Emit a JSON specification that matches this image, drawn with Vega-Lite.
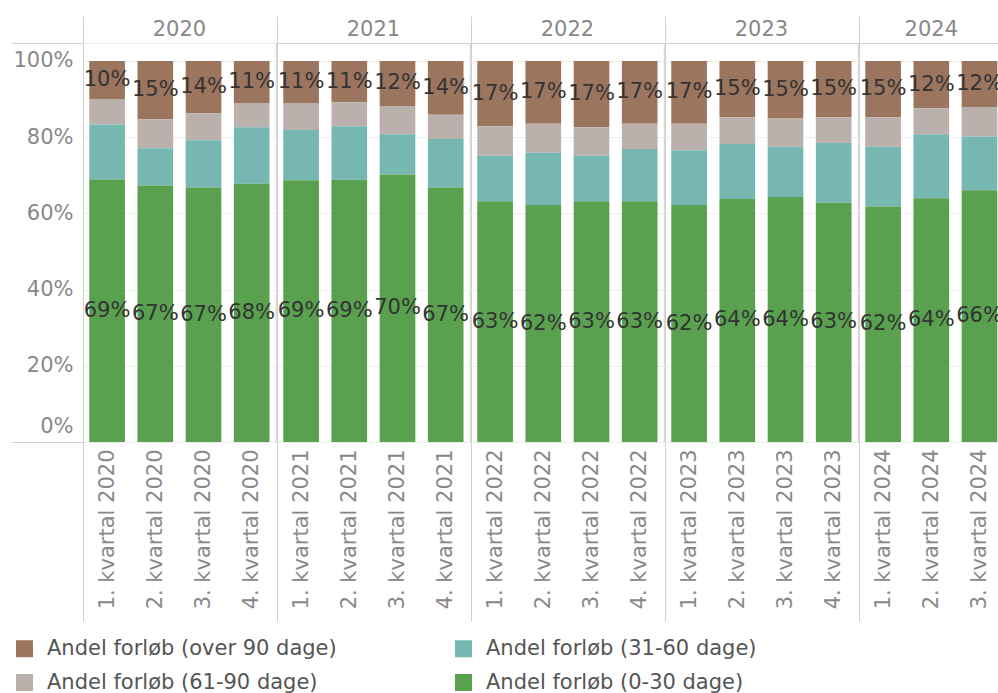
{
  "$schema": "https://vega.github.io/schema/vega-lite/v6.json",
  "padding": {"left": 10, "top": 15, "right": 0, "bottom": 0},
  "autosize": {"type": "pad"},
  "spacing": -14,
  "config": {
    "font": "DejaVu Sans",
    "view": {"stroke": "#d0d0d0", "strokeWidth": 1},
    "title": {"font": "DejaVu Sans", "fontSize": 21, "fontWeight": "normal", "color": "#888888", "offset": -24, "anchor": "middle"},
    "axisBottom": {
      "domain": false, "grid": false,
      "labelAngle": -90, "labelAlign": "right", "labelBaseline": "middle",
      "labelFont": "DejaVu Sans", "labelFontSize": 21, "labelColor": "#888888",
      "labelPadding": -172, "tickBand": "extent", "tickSize": 179, "tickColor": "#d0d0d0"
    },
    "axisTop": {
      "domain": false, "grid": false, "labels": false,
      "tickBand": "extent", "tickSize": 27, "tickColor": "#d0d0d0"
    },
    "axisLeft": {
      "domain": false, "labelFont": "DejaVu Sans", "labelFontSize": 21, "labelColor": "#888888",
      "labelPadding": -62, "tickSize": 72, "tickColor": "#d0d0d0", "gridColor": "#eeeeee",
      "minExtent": 0
    },
    "legend": {
      "orient": "none", "legendX": -69, "legendY": 595,
      "direction": "horizontal", "columns": 2, "columnPadding": 116, "rowPadding": 12,
      "symbolType": "square", "symbolSize": 289, "symbolStrokeWidth": 0,
      "labelFont": "DejaVu Sans", "labelFontSize": 21, "labelColor": "#555555", "labelOffset": 12, "labelLimit": 400,
      "title": null
    }
  },
  "data": {"values": [
    {"aar": "2020", "kvartal": "1. kvartal 2020", "kategori": "Andel forløb (over 90 dage)", "andel": 0.100},
    {"aar": "2020", "kvartal": "1. kvartal 2020", "kategori": "Andel forløb (61-90 dage)", "andel": 0.067},
    {"aar": "2020", "kvartal": "1. kvartal 2020", "kategori": "Andel forløb (31-60 dage)", "andel": 0.144},
    {"aar": "2020", "kvartal": "1. kvartal 2020", "kategori": "Andel forløb (0-30 dage)", "andel": 0.689},
    {"aar": "2020", "kvartal": "2. kvartal 2020", "kategori": "Andel forløb (over 90 dage)", "andel": 0.153},
    {"aar": "2020", "kvartal": "2. kvartal 2020", "kategori": "Andel forløb (61-90 dage)", "andel": 0.076},
    {"aar": "2020", "kvartal": "2. kvartal 2020", "kategori": "Andel forløb (31-60 dage)", "andel": 0.098},
    {"aar": "2020", "kvartal": "2. kvartal 2020", "kategori": "Andel forløb (0-30 dage)", "andel": 0.673},
    {"aar": "2020", "kvartal": "3. kvartal 2020", "kategori": "Andel forløb (over 90 dage)", "andel": 0.137},
    {"aar": "2020", "kvartal": "3. kvartal 2020", "kategori": "Andel forløb (61-90 dage)", "andel": 0.071},
    {"aar": "2020", "kvartal": "3. kvartal 2020", "kategori": "Andel forløb (31-60 dage)", "andel": 0.124},
    {"aar": "2020", "kvartal": "3. kvartal 2020", "kategori": "Andel forløb (0-30 dage)", "andel": 0.668},
    {"aar": "2020", "kvartal": "4. kvartal 2020", "kategori": "Andel forløb (over 90 dage)", "andel": 0.110},
    {"aar": "2020", "kvartal": "4. kvartal 2020", "kategori": "Andel forløb (61-90 dage)", "andel": 0.064},
    {"aar": "2020", "kvartal": "4. kvartal 2020", "kategori": "Andel forløb (31-60 dage)", "andel": 0.148},
    {"aar": "2020", "kvartal": "4. kvartal 2020", "kategori": "Andel forløb (0-30 dage)", "andel": 0.678},
    {"aar": "2021", "kvartal": "1. kvartal 2021", "kategori": "Andel forløb (over 90 dage)", "andel": 0.110},
    {"aar": "2021", "kvartal": "1. kvartal 2021", "kategori": "Andel forløb (61-90 dage)", "andel": 0.071},
    {"aar": "2021", "kvartal": "1. kvartal 2021", "kategori": "Andel forløb (31-60 dage)", "andel": 0.132},
    {"aar": "2021", "kvartal": "1. kvartal 2021", "kategori": "Andel forløb (0-30 dage)", "andel": 0.687},
    {"aar": "2021", "kvartal": "2. kvartal 2021", "kategori": "Andel forløb (over 90 dage)", "andel": 0.108},
    {"aar": "2021", "kvartal": "2. kvartal 2021", "kategori": "Andel forløb (61-90 dage)", "andel": 0.063},
    {"aar": "2021", "kvartal": "2. kvartal 2021", "kategori": "Andel forløb (31-60 dage)", "andel": 0.141},
    {"aar": "2021", "kvartal": "2. kvartal 2021", "kategori": "Andel forløb (0-30 dage)", "andel": 0.688},
    {"aar": "2021", "kvartal": "3. kvartal 2021", "kategori": "Andel forløb (over 90 dage)", "andel": 0.118},
    {"aar": "2021", "kvartal": "3. kvartal 2021", "kategori": "Andel forløb (61-90 dage)", "andel": 0.074},
    {"aar": "2021", "kvartal": "3. kvartal 2021", "kategori": "Andel forløb (31-60 dage)", "andel": 0.106},
    {"aar": "2021", "kvartal": "3. kvartal 2021", "kategori": "Andel forløb (0-30 dage)", "andel": 0.702},
    {"aar": "2021", "kvartal": "4. kvartal 2021", "kategori": "Andel forløb (over 90 dage)", "andel": 0.141},
    {"aar": "2021", "kvartal": "4. kvartal 2021", "kategori": "Andel forløb (61-90 dage)", "andel": 0.064},
    {"aar": "2021", "kvartal": "4. kvartal 2021", "kategori": "Andel forløb (31-60 dage)", "andel": 0.127},
    {"aar": "2021", "kvartal": "4. kvartal 2021", "kategori": "Andel forløb (0-30 dage)", "andel": 0.668},
    {"aar": "2022", "kvartal": "1. kvartal 2022", "kategori": "Andel forløb (over 90 dage)", "andel": 0.171},
    {"aar": "2022", "kvartal": "1. kvartal 2022", "kategori": "Andel forløb (61-90 dage)", "andel": 0.078},
    {"aar": "2022", "kvartal": "1. kvartal 2022", "kategori": "Andel forløb (31-60 dage)", "andel": 0.119},
    {"aar": "2022", "kvartal": "1. kvartal 2022", "kategori": "Andel forløb (0-30 dage)", "andel": 0.632},
    {"aar": "2022", "kvartal": "2. kvartal 2022", "kategori": "Andel forløb (over 90 dage)", "andel": 0.165},
    {"aar": "2022", "kvartal": "2. kvartal 2022", "kategori": "Andel forløb (61-90 dage)", "andel": 0.076},
    {"aar": "2022", "kvartal": "2. kvartal 2022", "kategori": "Andel forløb (31-60 dage)", "andel": 0.137},
    {"aar": "2022", "kvartal": "2. kvartal 2022", "kategori": "Andel forløb (0-30 dage)", "andel": 0.622},
    {"aar": "2022", "kvartal": "3. kvartal 2022", "kategori": "Andel forløb (over 90 dage)", "andel": 0.174},
    {"aar": "2022", "kvartal": "3. kvartal 2022", "kategori": "Andel forløb (61-90 dage)", "andel": 0.075},
    {"aar": "2022", "kvartal": "3. kvartal 2022", "kategori": "Andel forløb (31-60 dage)", "andel": 0.119},
    {"aar": "2022", "kvartal": "3. kvartal 2022", "kategori": "Andel forløb (0-30 dage)", "andel": 0.632},
    {"aar": "2022", "kvartal": "4. kvartal 2022", "kategori": "Andel forløb (over 90 dage)", "andel": 0.165},
    {"aar": "2022", "kvartal": "4. kvartal 2022", "kategori": "Andel forløb (61-90 dage)", "andel": 0.066},
    {"aar": "2022", "kvartal": "4. kvartal 2022", "kategori": "Andel forløb (31-60 dage)", "andel": 0.137},
    {"aar": "2022", "kvartal": "4. kvartal 2022", "kategori": "Andel forløb (0-30 dage)", "andel": 0.632},
    {"aar": "2023", "kvartal": "1. kvartal 2023", "kategori": "Andel forløb (over 90 dage)", "andel": 0.165},
    {"aar": "2023", "kvartal": "1. kvartal 2023", "kategori": "Andel forløb (61-90 dage)", "andel": 0.069},
    {"aar": "2023", "kvartal": "1. kvartal 2023", "kategori": "Andel forløb (31-60 dage)", "andel": 0.144},
    {"aar": "2023", "kvartal": "1. kvartal 2023", "kategori": "Andel forløb (0-30 dage)", "andel": 0.622},
    {"aar": "2023", "kvartal": "2. kvartal 2023", "kategori": "Andel forløb (over 90 dage)", "andel": 0.148},
    {"aar": "2023", "kvartal": "2. kvartal 2023", "kategori": "Andel forløb (61-90 dage)", "andel": 0.070},
    {"aar": "2023", "kvartal": "2. kvartal 2023", "kategori": "Andel forløb (31-60 dage)", "andel": 0.144},
    {"aar": "2023", "kvartal": "2. kvartal 2023", "kategori": "Andel forløb (0-30 dage)", "andel": 0.638},
    {"aar": "2023", "kvartal": "3. kvartal 2023", "kategori": "Andel forløb (over 90 dage)", "andel": 0.151},
    {"aar": "2023", "kvartal": "3. kvartal 2023", "kategori": "Andel forløb (61-90 dage)", "andel": 0.074},
    {"aar": "2023", "kvartal": "3. kvartal 2023", "kategori": "Andel forløb (31-60 dage)", "andel": 0.132},
    {"aar": "2023", "kvartal": "3. kvartal 2023", "kategori": "Andel forløb (0-30 dage)", "andel": 0.643},
    {"aar": "2023", "kvartal": "4. kvartal 2023", "kategori": "Andel forløb (over 90 dage)", "andel": 0.148},
    {"aar": "2023", "kvartal": "4. kvartal 2023", "kategori": "Andel forløb (61-90 dage)", "andel": 0.067},
    {"aar": "2023", "kvartal": "4. kvartal 2023", "kategori": "Andel forløb (31-60 dage)", "andel": 0.157},
    {"aar": "2023", "kvartal": "4. kvartal 2023", "kategori": "Andel forløb (0-30 dage)", "andel": 0.628},
    {"aar": "2024", "kvartal": "1. kvartal 2024", "kategori": "Andel forløb (over 90 dage)", "andel": 0.148},
    {"aar": "2024", "kvartal": "1. kvartal 2024", "kategori": "Andel forløb (61-90 dage)", "andel": 0.077},
    {"aar": "2024", "kvartal": "1. kvartal 2024", "kategori": "Andel forløb (31-60 dage)", "andel": 0.157},
    {"aar": "2024", "kvartal": "1. kvartal 2024", "kategori": "Andel forløb (0-30 dage)", "andel": 0.618},
    {"aar": "2024", "kvartal": "2. kvartal 2024", "kategori": "Andel forløb (over 90 dage)", "andel": 0.124},
    {"aar": "2024", "kvartal": "2. kvartal 2024", "kategori": "Andel forløb (61-90 dage)", "andel": 0.068},
    {"aar": "2024", "kvartal": "2. kvartal 2024", "kategori": "Andel forløb (31-60 dage)", "andel": 0.168},
    {"aar": "2024", "kvartal": "2. kvartal 2024", "kategori": "Andel forløb (0-30 dage)", "andel": 0.640},
    {"aar": "2024", "kvartal": "3. kvartal 2024", "kategori": "Andel forløb (over 90 dage)", "andel": 0.121},
    {"aar": "2024", "kvartal": "3. kvartal 2024", "kategori": "Andel forløb (61-90 dage)", "andel": 0.077},
    {"aar": "2024", "kvartal": "3. kvartal 2024", "kategori": "Andel forløb (31-60 dage)", "andel": 0.141},
    {"aar": "2024", "kvartal": "3. kvartal 2024", "kategori": "Andel forløb (0-30 dage)", "andel": 0.661}
  ]},
  "resolve": {"scale": {"x": "independent"}},
  "hconcat": [
    {
      "width": 192.8, "height": 399,
      "title": {"text": "2020"},
      "transform": [{"filter": "datum.aar == '2020'"}],
      "resolve": {"axis": {"x": "independent"}},
      "layer": [
        {
          "mark": {"type": "bar", "width": {"band": 0.74}},
          "encoding": {
            "x": {"field": "kvartal", "type": "nominal", "scale": {"paddingInner": 0, "paddingOuter": 0}, "axis": {"title": null, "orient": "bottom", "tickOpacity": {"condition": {"test": "!isString(datum.value)", "value": 1}, "value": 0}}},
            "y": {"field": "andel", "type": "quantitative", "stack": "zero", "scale": {"domain": [0, 1.0472], "nice": false},
              "axis": {"title": null, "values": [0, 0.2, 0.4, 0.6, 0.8, 1, 1.0472], "format": ".0%", "labelExpr": "datum.value > 1.01 ? '' : datum.label",
                "tickOpacity": {"condition": {"test": "datum.value == 0 || datum.value > 1.01", "value": 1}, "value": 0},
                "labelOffset": {"condition": {"test": "datum.value == 0", "value": -16}, "value": 0}}},
            "color": {"field": "kategori", "type": "nominal", "scale": {"domain": ["Andel forløb (over 90 dage)", "Andel forløb (31-60 dage)", "Andel forløb (61-90 dage)", "Andel forløb (0-30 dage)"], "range": ["#9c755f", "#76b7b2", "#bab0ac", "#59a14f"]}},
            "order": {"field": "kategori", "sort": "ascending"}
          }
        },
        {
          "mark": {"type": "text", "font": "DejaVu Sans", "fontSize": 21, "color": "#333333", "baseline": "middle"},
          "encoding": {
            "x": {"field": "kvartal", "type": "nominal", "axis": {"title": null, "orient": "top", "tickOpacity": {"condition": {"test": "!isString(datum.value)", "value": 1}, "value": 0}}},
            "y": {"field": "andel", "type": "quantitative", "stack": "zero", "bandPosition": 0.5},
            "detail": {"field": "kategori"},
            "order": {"field": "kategori", "sort": "ascending"},
            "text": {"condition": {"test": "datum.kategori == 'Andel forløb (31-60 dage)' || datum.kategori == 'Andel forløb (61-90 dage)'", "value": ""}, "field": "andel", "type": "quantitative", "format": ".0%"}
          }
        }
      ]
    },
    {
      "width": 192.8, "height": 399,
      "title": {"text": "2021"},
      "transform": [{"filter": "datum.aar == '2021'"}],
      "resolve": {"axis": {"x": "independent"}},
      "layer": [
        {
          "mark": {"type": "bar", "width": {"band": 0.74}},
          "encoding": {
            "x": {"field": "kvartal", "type": "nominal", "scale": {"paddingInner": 0, "paddingOuter": 0}, "axis": {"title": null, "orient": "bottom", "tickOpacity": {"condition": {"test": "!isString(datum.value)", "value": 1}, "value": 0}}},
            "y": {"field": "andel", "type": "quantitative", "stack": "zero", "scale": {"domain": [0, 1.0472], "nice": false},
              "axis": {"title": null, "values": [0, 0.2, 0.4, 0.6, 0.8, 1], "labels": false, "ticks": false, "minExtent": 0}},
            "color": {"field": "kategori", "type": "nominal"},
            "order": {"field": "kategori", "sort": "ascending"}
          }
        },
        {
          "mark": {"type": "text", "font": "DejaVu Sans", "fontSize": 21, "color": "#333333", "baseline": "middle"},
          "encoding": {
            "x": {"field": "kvartal", "type": "nominal", "axis": {"title": null, "orient": "top", "tickOpacity": {"condition": {"test": "!isString(datum.value)", "value": 1}, "value": 0}}},
            "y": {"field": "andel", "type": "quantitative", "stack": "zero", "bandPosition": 0.5},
            "detail": {"field": "kategori"},
            "order": {"field": "kategori", "sort": "ascending"},
            "text": {"condition": {"test": "datum.kategori == 'Andel forløb (31-60 dage)' || datum.kategori == 'Andel forløb (61-90 dage)'", "value": ""}, "field": "andel", "type": "quantitative", "format": ".0%"}
          }
        }
      ]
    },
    {
      "width": 192.8, "height": 399,
      "title": {"text": "2022"},
      "transform": [{"filter": "datum.aar == '2022'"}],
      "resolve": {"axis": {"x": "independent"}},
      "layer": [
        {
          "mark": {"type": "bar", "width": {"band": 0.74}},
          "encoding": {
            "x": {"field": "kvartal", "type": "nominal", "scale": {"paddingInner": 0, "paddingOuter": 0}, "axis": {"title": null, "orient": "bottom", "tickOpacity": {"condition": {"test": "!isString(datum.value)", "value": 1}, "value": 0}}},
            "y": {"field": "andel", "type": "quantitative", "stack": "zero", "scale": {"domain": [0, 1.0472], "nice": false},
              "axis": {"title": null, "values": [0, 0.2, 0.4, 0.6, 0.8, 1], "labels": false, "ticks": false, "minExtent": 0}},
            "color": {"field": "kategori", "type": "nominal"},
            "order": {"field": "kategori", "sort": "ascending"}
          }
        },
        {
          "mark": {"type": "text", "font": "DejaVu Sans", "fontSize": 21, "color": "#333333", "baseline": "middle"},
          "encoding": {
            "x": {"field": "kvartal", "type": "nominal", "axis": {"title": null, "orient": "top", "tickOpacity": {"condition": {"test": "!isString(datum.value)", "value": 1}, "value": 0}}},
            "y": {"field": "andel", "type": "quantitative", "stack": "zero", "bandPosition": 0.5},
            "detail": {"field": "kategori"},
            "order": {"field": "kategori", "sort": "ascending"},
            "text": {"condition": {"test": "datum.kategori == 'Andel forløb (31-60 dage)' || datum.kategori == 'Andel forløb (61-90 dage)'", "value": ""}, "field": "andel", "type": "quantitative", "format": ".0%"}
          }
        }
      ]
    },
    {
      "width": 192.8, "height": 399,
      "title": {"text": "2023"},
      "transform": [{"filter": "datum.aar == '2023'"}],
      "resolve": {"axis": {"x": "independent"}},
      "layer": [
        {
          "mark": {"type": "bar", "width": {"band": 0.74}},
          "encoding": {
            "x": {"field": "kvartal", "type": "nominal", "scale": {"paddingInner": 0, "paddingOuter": 0}, "axis": {"title": null, "orient": "bottom", "tickOpacity": {"condition": {"test": "!isString(datum.value)", "value": 1}, "value": 0}}},
            "y": {"field": "andel", "type": "quantitative", "stack": "zero", "scale": {"domain": [0, 1.0472], "nice": false},
              "axis": {"title": null, "values": [0, 0.2, 0.4, 0.6, 0.8, 1], "labels": false, "ticks": false, "minExtent": 0}},
            "color": {"field": "kategori", "type": "nominal"},
            "order": {"field": "kategori", "sort": "ascending"}
          }
        },
        {
          "mark": {"type": "text", "font": "DejaVu Sans", "fontSize": 21, "color": "#333333", "baseline": "middle"},
          "encoding": {
            "x": {"field": "kvartal", "type": "nominal", "axis": {"title": null, "orient": "top", "tickOpacity": {"condition": {"test": "!isString(datum.value)", "value": 1}, "value": 0}}},
            "y": {"field": "andel", "type": "quantitative", "stack": "zero", "bandPosition": 0.5},
            "detail": {"field": "kategori"},
            "order": {"field": "kategori", "sort": "ascending"},
            "text": {"condition": {"test": "datum.kategori == 'Andel forløb (31-60 dage)' || datum.kategori == 'Andel forløb (61-90 dage)'", "value": ""}, "field": "andel", "type": "quantitative", "format": ".0%"}
          }
        }
      ]
    },
    {
      "width": 144.6, "height": 399,
      "title": {"text": "2024"},
      "transform": [{"filter": "datum.aar == '2024'"}],
      "resolve": {"axis": {"x": "independent"}},
      "layer": [
        {
          "mark": {"type": "bar", "width": {"band": 0.74}},
          "encoding": {
            "x": {"field": "kvartal", "type": "nominal", "scale": {"paddingInner": 0, "paddingOuter": 0}, "axis": {"title": null, "orient": "bottom", "tickOpacity": {"condition": {"test": "!isString(datum.value)", "value": 1}, "value": 0}}},
            "y": {"field": "andel", "type": "quantitative", "stack": "zero", "scale": {"domain": [0, 1.0472], "nice": false},
              "axis": {"title": null, "values": [0, 0.2, 0.4, 0.6, 0.8, 1], "labels": false, "ticks": false, "minExtent": 0}},
            "color": {"field": "kategori", "type": "nominal"},
            "order": {"field": "kategori", "sort": "ascending"}
          }
        },
        {
          "mark": {"type": "text", "font": "DejaVu Sans", "fontSize": 21, "color": "#333333", "baseline": "middle"},
          "encoding": {
            "x": {"field": "kvartal", "type": "nominal", "axis": {"title": null, "orient": "top", "tickOpacity": {"condition": {"test": "!isString(datum.value)", "value": 1}, "value": 0}}},
            "y": {"field": "andel", "type": "quantitative", "stack": "zero", "bandPosition": 0.5},
            "detail": {"field": "kategori"},
            "order": {"field": "kategori", "sort": "ascending"},
            "text": {"condition": {"test": "datum.kategori == 'Andel forløb (31-60 dage)' || datum.kategori == 'Andel forløb (61-90 dage)'", "value": ""}, "field": "andel", "type": "quantitative", "format": ".0%"}
          }
        }
      ]
    }
  ]
}
